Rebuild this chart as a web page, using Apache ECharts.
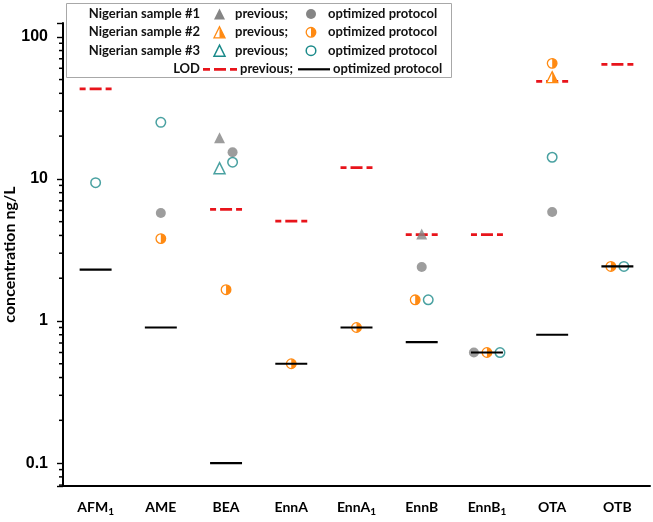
<!DOCTYPE html>
<html><head><meta charset="utf-8">
<script src="https://cdn.jsdelivr.net/npm/echarts@6/dist/echarts.min.js"></script>
<style>html,body{margin:0;padding:0;background:#fff}#c{width:653px;height:522px}</style>
</head><body><div id="c"></div>
<script>
// ---- data ----
const categories = ['AFM1', 'AME', 'BEA', 'EnnA', 'EnnA1', 'EnnB', 'EnnB1', 'OTA', 'OTB'];
const lodPrevious  = [43, null, 6.1, 5.05, 12, 4.05, 4.05, 48.5, 64];
const lodOptimized = [2.3, 0.9, 0.1, 0.5, 0.9, 0.71, 0.6, 0.8, 2.42];
const sample1Previous  = [null, null, 19.5, null, null, 4.1, null, null, null];
const sample1Optimized = [null, 5.75, 15.4, null, null, 2.4, 0.6, 5.84, null];
const sample2Previous  = [null, null, null, null, null, null, null, 52, null];
const sample2Optimized = [null, 3.8, 1.66, 0.5, 0.9, 1.41, 0.6, 65, 2.42];
const sample3Previous  = [null, null, 11.9, null, null, null, null, null, null];
const sample3Optimized = [9.4, 25, 13.1, null, null, 1.41, 0.6, 14.2, 2.42];
// horizontal dodge of overlapping markers, as a fraction of the category band
const dodge1Previous  = [0, 0, -0.1, 0, 0, 0, 0, 0, 0];
const dodge1Optimized = [0, 0, 0.1, 0, 0, 0, -0.2, 0, 0];
const dodge2Previous  = [0, 0, 0, 0, 0, 0, 0, 0, 0];
const dodge2Optimized = [0, 0, 0, 0, 0, -0.1, 0, 0, -0.1];
const dodge3Previous  = [0, 0, -0.1, 0, 0, 0, 0, 0, 0];
const dodge3Optimized = [0, 0, 0.1, 0, 0, 0.1, 0.2, 0, 0.1];
const majorTicks = [0.1, 1, 10, 100];
const minorTicks = [0.07, 0.08, 0.09, 0.2, 0.3, 0.4, 0.5, 0.6, 0.7, 0.8, 0.9,
  2, 3, 4, 5, 6, 7, 8, 9, 20, 30, 40, 50, 60, 70, 80, 90];

// ---- style ----
const GRAY = '#858585', TEAL = '#1b8a8a', ORANGE = '#ff8a12', RED = '#e8141b';
const FONT = 'Lato';
const GRID = {left: 63, right: 3, top: 23, bottom: 36};
const BAND = (653 - GRID.left - GRID.right) / categories.length;

function pts(vals, dodge) {
  const out = [];
  vals.forEach((v, i) => { if (v != null) out.push([i, v, dodge ? dodge[i] : 0]); });
  return out;
}
function scatterData(vals, dodge) {
  return pts(vals, dodge).map(d => ({value: [d[0], d[1]], symbolOffset: [d[2] * BAND, 0]}));
}
function segRender(color, dash, width) {
  return function (params, api) {
    const p = api.coord([api.value(0), api.value(1)]);
    const half = api.size([1, 0])[0] * 0.245;
    return {type: 'line', shape: {x1: p[0] - half, y1: p[1], x2: p[0] + half, y2: p[1]},
      style: {stroke: color, lineWidth: width, lineDash: dash}};
  };
}
function halfCircle(x, y, r) {
  return [
    {type: 'circle', shape: {cx: x, cy: y, r: r}, style: {fill: '#fff', stroke: ORANGE, lineWidth: 1.3}},
    {type: 'sector', shape: {cx: x, cy: y, r0: 0, r: r, startAngle: -Math.PI / 2, endAngle: Math.PI / 2, clockwise: true},
      style: {fill: ORANGE}}
  ];
}
function halfTriangle(x, y, s) {
  const top = [x, y - s / 2], r = [x + s / 2, y + s / 2], l = [x - s / 2, y + s / 2], m = [x, y + s / 2];
  return [
    {type: 'polygon', shape: {points: [top, r, l]}, style: {fill: '#fff', stroke: ORANGE, lineWidth: 1.3}},
    {type: 'polygon', shape: {points: [top, r, m]}, style: {fill: ORANGE}}
  ];
}
function halfRender(kind) {
  return function (params, api) {
    const p = api.coord([api.value(0), api.value(1)]);
    const x = p[0] + api.value(2) * api.size([1, 0])[0];
    return {type: 'group', children: kind === 'circle' ? halfCircle(x, p[1], 4.8) : halfTriangle(x, p[1], 11)};
  };
}

// legend drawn with graphic elements
function buildLegend() {
  const LX = {label: 200, sym1: 219.5, txt1: 235, sym2: 311, txt2: 328};
  const rowsY = [14, 32.3, 50.7, 69.3];
  const tfont = 'bold 13px ' + FONT;
  const els = [
    {type: 'rect', shape: {x: 66.5, y: 3.5, width: 385, height: 74}, style: {fill: '#fff', stroke: '#a8a8a8', lineWidth: 1}, z: 100}
  ];
  function txt(t, x, y, align) {
    els.push({type: 'text', x: x, y: y, style: {text: t, font: tfont, fill: '#111', align: align, verticalAlign: 'middle'}, z: 101});
  }
  ['Nigerian sample #1', 'Nigerian sample #2', 'Nigerian sample #3'].forEach((t, i) => {
    txt(t, LX.label, rowsY[i], 'right');
    txt('previous;', LX.txt1, rowsY[i], 'left');
    txt('optimized protocol', LX.txt2, rowsY[i], 'left');
  });
  els.push({type: 'polygon', shape: {points: [[LX.sym1, rowsY[0] - 5.5], [LX.sym1 + 5.5, rowsY[0] + 5.5], [LX.sym1 - 5.5, rowsY[0] + 5.5]]}, style: {fill: GRAY}, z: 101});
  els.push({type: 'circle', shape: {cx: LX.sym2, cy: rowsY[0], r: 5}, style: {fill: GRAY}, z: 101});
  halfTriangle(LX.sym1, rowsY[1], 11).forEach(e => { e.z = 101; els.push(e); });
  halfCircle(LX.sym2, rowsY[1], 4.8).forEach(e => { e.z = 101; els.push(e); });
  els.push({type: 'polygon', shape: {points: [[LX.sym1, rowsY[2] - 5.5], [LX.sym1 + 5.5, rowsY[2] + 5.5], [LX.sym1 - 5.5, rowsY[2] + 5.5]]}, style: {fill: '#fff', stroke: TEAL, lineWidth: 1.5}, z: 101});
  els.push({type: 'circle', shape: {cx: LX.sym2, cy: rowsY[2], r: 4.8}, style: {fill: '#fff', stroke: TEAL, lineWidth: 1.5}, z: 101});
  txt('LOD', 200, rowsY[3], 'right');
  els.push({type: 'line', shape: {x1: 203, y1: rowsY[3], x2: 237, y2: rowsY[3]}, style: {stroke: RED, lineWidth: 2.8, lineDash: [7, 4, 12, 4]}, z: 101});
  txt('previous;', 240, rowsY[3], 'left');
  els.push({type: 'line', shape: {x1: 298, y1: rowsY[3], x2: 330, y2: rowsY[3]}, style: {stroke: '#000', lineWidth: 2.2}, z: 101});
  txt('optimized protocol', 333, rowsY[3], 'left');
  return els;
}

function xLabel(v) {
  const m = /^(.*[A-Z])1$/.exec(v);
  return m ? '{b|' + m[1] + '}{s|1}' : '{b|' + v + '}';
}

const chart = echarts.init(document.getElementById('c'), null, {renderer: 'canvas'});
chart.setOption({
  animation: false,
  backgroundColor: '#fff',
  grid: Object.assign({containLabel: false, outerBoundsMode: 'none'}, GRID),
  xAxis: {
    type: 'category', data: categories,
    axisLine: {lineStyle: {color: '#000', width: 2}},
    axisTick: {alignWithLabel: true, interval: 0, length: 6, lineStyle: {color: '#000', width: 1.5}},
    axisLabel: {
      interval: 0, margin: 12, formatter: xLabel, color: '#000',
      rich: {
        b: {fontFamily: FONT, fontWeight: 'bold', fontSize: 14, color: '#000', lineHeight: 18},
        s: {fontFamily: FONT, fontWeight: 'bold', fontSize: 10, color: '#000', padding: [9, 0, 0, 0], lineHeight: 18}
      }
    },
    splitLine: {show: false}
  },
  yAxis: {
    type: 'log', logBase: 10, min: 0.069, max: 125,
    name: 'concentration ng/L', nameLocation: 'middle', nameGap: 45, nameMoveOverlap: false,
    nameTextStyle: {fontFamily: FONT, fontWeight: 'bold', fontSize: 16, color: '#000'},
    axisLine: {show: true, lineStyle: {color: '#000', width: 2}},
    axisTick: {show: true, length: 6, lineStyle: {color: '#000', width: 1.4}},
    splitLine: {show: false},
    axisLabel: {
      margin: 15, color: '#000', fontFamily: 'Liberation Sans', fontWeight: 'bold', fontSize: 16,
      formatter: function (v) {
        const l = Math.log10(v);
        return Math.abs(l - Math.round(l)) < 1e-6 ? String(+v.toPrecision(3)) : '';
      }
    }
  },
  series: [
    {type: 'custom', name: 'LOD previous', renderItem: segRender(RED, [6, 4, 12, 4], 2.8), data: pts(lodPrevious), z: 2},
    {type: 'scatter', name: 'Nigerian sample #1 previous', symbol: 'triangle', symbolSize: 11,
      itemStyle: {color: GRAY}, data: scatterData(sample1Previous, dodge1Previous), z: 3},
    {type: 'scatter', name: 'Nigerian sample #1 optimized', symbol: 'circle', symbolSize: 10,
      itemStyle: {color: GRAY}, data: scatterData(sample1Optimized, dodge1Optimized), z: 3},
    {type: 'custom', name: 'Nigerian sample #2 previous', renderItem: halfRender('triangle'), data: pts(sample2Previous, dodge2Previous), z: 3},
    {type: 'custom', name: 'Nigerian sample #2 optimized', renderItem: halfRender('circle'), data: pts(sample2Optimized, dodge2Optimized), z: 3},
    {type: 'scatter', name: 'Nigerian sample #3 previous', symbol: 'triangle', symbolSize: 11,
      itemStyle: {color: '#fff', borderColor: TEAL, borderWidth: 1.5}, data: scatterData(sample3Previous, dodge3Previous), z: 3},
    {type: 'scatter', name: 'Nigerian sample #3 optimized', symbol: 'circle', symbolSize: 9.5,
      itemStyle: {color: '#fff', borderColor: TEAL, borderWidth: 1.5}, data: scatterData(sample3Optimized, dodge3Optimized), z: 3},
    {type: 'custom', name: 'LOD optimized protocol', renderItem: segRender('#000', null, 2.2), data: pts(lodOptimized), z: 4}
  ]
});

// minor y-axis ticks at 2..9 of each decade, placed through the axis scale
const tickEls = [];
try {
  minorTicks.forEach(v => {
    const y = chart.convertToPixel({yAxisIndex: 0}, v);
    if (isFinite(y)) {
      tickEls.push({type: 'line', shape: {x1: GRID.left - 4, y1: y, x2: GRID.left, y2: y},
        style: {stroke: '#000', lineWidth: 1.5}, z: 50, silent: true});
    }
  });
} catch (e) { /* keep chart without minor ticks */ }
chart.setOption({graphic: {elements: buildLegend().concat(tickEls)}});
</script></body></html>
